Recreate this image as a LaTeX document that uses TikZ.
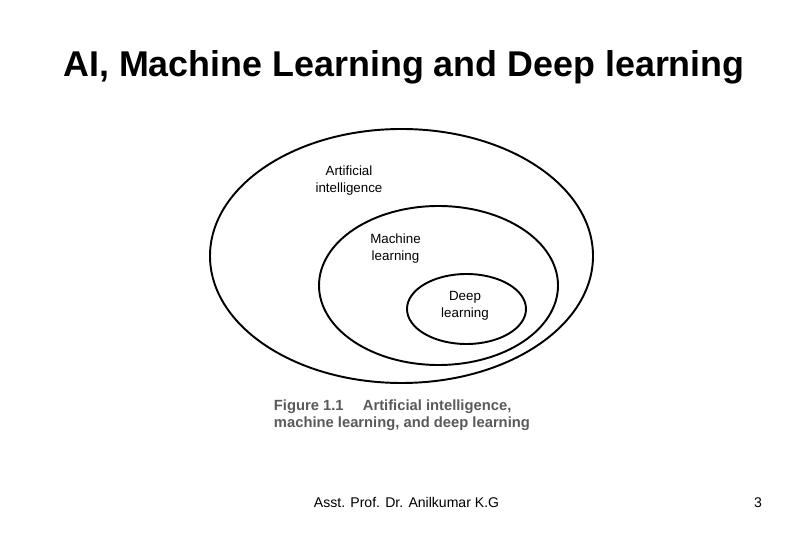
\documentclass[tikz,border=0pt]{standalone}
\usepackage{fontspec}
\setsansfont{Liberation Sans}
\usepackage{xcolor}
\usepackage{tikz}
\usetikzlibrary{positioning}

\definecolor{capgray}{HTML}{5A5A5A}

\begin{document}
\begin{tikzpicture}[
    font=\sffamily,
    line width=1.1pt,
    ring/.style={black, line width=1.1pt},
    setlabel/.style={align=center, font=\sffamily\fontsize{7.6}{9.7}\selectfont}
]

% Page
\fill[white] (0,0) rectangle (16.2,10.8);
\useasboundingbox (0,0) rectangle (16.2,10.8);

% Title
\node[anchor=base, font=\sffamily\bfseries\fontsize{20.4}{24}\selectfont]
    (title) at (8.08,9.26) {AI, Machine Learning and Deep learning};

% Nested sets
\draw[ring] (8.03,5.68) ellipse (3.83 and 2.54);
\draw[ring] (8.77,5.09) ellipse (2.39 and 1.59);
\draw[ring] (9.33,4.62) ellipse (1.19 and 0.70);

% Set labels
\node[setlabel] (ailbl) at (6.98,7.18) {Artificial\\intelligence};
\node[setlabel] (mllbl) at (7.91,5.83) {Machine\\learning};
\node[setlabel] (dllbl) at (9.30,4.69) {Deep\\learning};

% Caption (base = last line)
\node[anchor=base west, align=left, inner sep=0pt, text=capgray,
      font=\sffamily\bfseries\fontsize{8.4}{9.7}\selectfont]
    (caption) at (5.46,2.24) {Figure 1.1\hspace{1.3em}Artificial intelligence,\\machine learning, and deep learning};

% Footer
\node[anchor=base west, inner sep=0pt, font=\sffamily\fontsize{8}{10}\selectfont]
    (author) at (6.26,0.64) {Asst. Prof. Dr. Anilkumar K.G};
\node[anchor=base east, inner sep=0pt, font=\sffamily\fontsize{8}{10}\selectfont]
    (pagenum) at (15.26,0.64) {3};

\end{tikzpicture}
\end{document}
